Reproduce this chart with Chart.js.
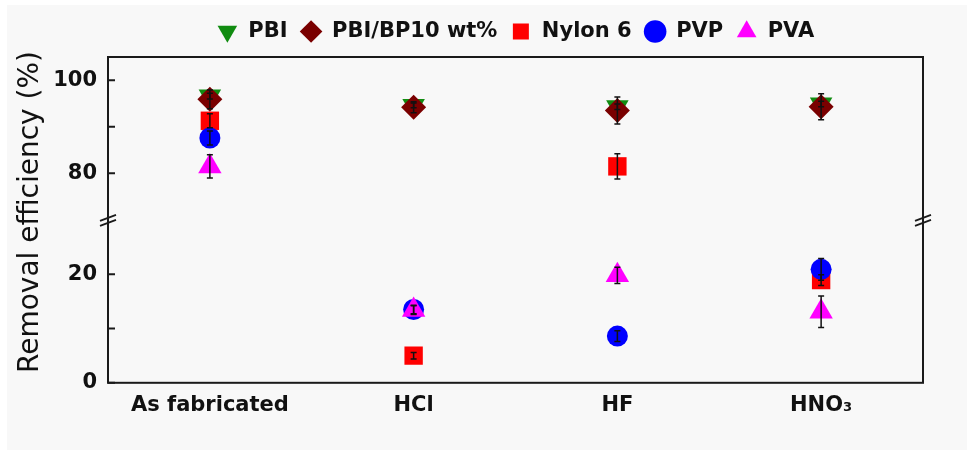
<!DOCTYPE html>
<html>
<head>
<meta charset="utf-8">
<script src="https://cdn.jsdelivr.net/npm/chart.js@4.4.1/dist/chart.umd.min.js"></script>
<style>
  html, body { margin: 0; padding: 0; background: #ffffff; }
  #wrap { width: 967px; height: 450px; }
</style>
</head>
<body>
<div id="wrap"><canvas id="chart" width="967" height="450"></canvas></div>
<script>
// Treatment conditions along the x axis
const categories = ['As fabricated', 'HCl', 'HF', 'HNO₃'];

// Removal efficiency (%) per membrane material
const pbi    = [96.6, 94.6, 94.3, 94.9];
const pbiBp  = [95.9, 94.2, 93.5, 94.3];
const nylon6 = [91.3, 5.0, 81.5, 18.9];
const pvp    = [87.6, 13.5, 8.6, 20.9];
const pva    = [81.5, 13.4, 19.8, 13.1];

// Standard deviations for the error bars
const pbiErr    = [0.6, 0.5, 0.6, 0.6];
const pbiBpErr  = [2.0, 1.2, 2.9, 2.8];
const nylon6Err = [1.5, 0.6, 2.7, 1.0];
const pvpErr    = [1.5, 0.8, 1.0, 2.0];
const pvaErr    = [2.5, 0.8, 1.5, 2.9];

// Axis break: values below go to the lower panel, above to the upper one
const upperRange = [70, 105];
const lowerRange = [0, 30];
const upperTicks = [80, 90, 100];
const lowerTicks = [0, 10, 20];

const FONT = 'DejaVu Sans, Liberation Sans, Arial, sans-serif';

const series = [
  { label: 'PBI',          values: pbi,    err: pbiErr,    color: '#118c11', style: 'triangle', rotation: 180, radius: 13 },
  { label: 'PBI/BP10 wt%', values: pbiBp,  err: pbiBpErr,  color: '#7a0000', style: 'rectRot',  rotation: 0,   radius: 12.5 },
  { label: 'Nylon 6',      values: nylon6, err: nylon6Err, color: '#ff0000', style: 'rect',     rotation: 0,   radius: 13 },
  { label: 'PVP',          values: pvp,    err: pvpErr,    color: '#0000ff', style: 'circle',   rotation: 0,   radius: 10.5 },
  { label: 'PVA',          values: pva,    err: pvaErr,    color: '#ff00ff', style: 'triangle', rotation: 0,   radius: 13.5 }
];

function makeDataset(s, k, panel) {
  const inUpper = v => v >= upperRange[0];
  const data = s.values.map(v => (panel === 'yTop' ? inUpper(v) : !inUpper(v)) ? v : null);
  return {
    label: s.label,
    data: data,
    errors: s.err,
    yAxisID: panel,
    showLine: false,
    order: series.length - k,
    pointStyle: s.style,
    pointRotation: s.rotation,
    pointRadius: s.radius,
    pointHoverRadius: s.radius,
    pointBackgroundColor: s.color,
    pointBorderColor: s.color,
    pointBorderWidth: 0,
    backgroundColor: s.color,
    borderColor: s.color
  };
}

const datasets = series.map((s, k) => makeDataset(s, k, 'yTop'))
  .concat(series.map((s, k) => makeDataset(s, k, 'yBottom')));

// Page background, frame, inward ticks, axis-break marks, y title and error bars
const decorations = {
  id: 'decorations',
  beforeDraw(chart) {
    const ctx = chart.ctx;
    ctx.save();
    ctx.fillStyle = '#ffffff';
    ctx.fillRect(0, 0, chart.width, chart.height);
    ctx.fillStyle = '#f8f8f8';
    ctx.fillRect(7, 5, chart.width - 7, chart.height - 5);
    ctx.restore();
  },
  afterDatasetsDraw(chart) {
    const ctx = chart.ctx;
    ctx.save();
    ctx.strokeStyle = '#111';
    ctx.lineWidth = 1.5;
    chart.data.datasets.forEach((ds, di) => {
      const meta = chart.getDatasetMeta(di);
      const scale = chart.scales[ds.yAxisID];
      ds.data.forEach((v, i) => {
        if (v === null || !ds.errors) return;
        const e = ds.errors[i];
        const x = meta.data[i].x;
        const y1 = scale.getPixelForValue(v - e);
        const y2 = scale.getPixelForValue(v + e);
        ctx.beginPath();
        ctx.moveTo(x, y1); ctx.lineTo(x, y2);
        ctx.moveTo(x - 3, y1); ctx.lineTo(x + 3, y1);
        ctx.moveTo(x - 3, y2); ctx.lineTo(x + 3, y2);
        ctx.stroke();
      });
    });
    ctx.restore();
  },
  afterDraw(chart) {
    const ctx = chart.ctx;
    const a = chart.chartArea;
    const top = chart.scales.yTop, bottom = chart.scales.yBottom;
    ctx.save();
    ctx.strokeStyle = '#1a1a1a';
    ctx.lineWidth = 2;
    ctx.strokeRect(a.left, a.top, a.right - a.left, a.bottom - a.top);

    // inward ticks on the left axis
    ctx.beginPath();
    upperTicks.forEach(v => { const y = top.getPixelForValue(v); ctx.moveTo(a.left, y); ctx.lineTo(a.left + 7, y); });
    lowerTicks.forEach(v => { const y = bottom.getPixelForValue(v); ctx.moveTo(a.left, y); ctx.lineTo(a.left + 7, y); });
    ctx.stroke();

    // break marks where the two panels meet
    const yb = (top.bottom + bottom.top) / 2;
    ctx.lineWidth = 1.8;
    [a.left, a.right].forEach(x => {
      ctx.beginPath();
      ctx.moveTo(x - 8, yb + 1); ctx.lineTo(x + 8, yb - 5);
      ctx.moveTo(x - 8, yb + 6); ctx.lineTo(x + 8, yb);
      ctx.stroke();
    });

    // y axis title spanning both panels
    ctx.fillStyle = '#111';
    ctx.font = '28px ' + FONT;
    ctx.textAlign = 'center';
    ctx.textBaseline = 'middle';
    ctx.translate(31, 212);
    ctx.rotate(-Math.PI / 2);
    ctx.fillText('Removal efficiency (%)', 0, 0);
    ctx.restore();
  }
};

const tickFont = { family: FONT, size: 21, weight: 'bold' };

function panelScale(range, ticks) {
  return {
    type: 'linear',
    position: 'left',
    stack: 'efficiency',
    stackWeight: 1,
    min: range[0],
    max: range[1],
    grid: { display: false, drawTicks: false },
    border: { display: false },
    afterBuildTicks: s => { s.ticks = ticks.map(v => ({ value: v })); },
    afterFit: s => { s.width = 108; },
    ticks: {
      font: tickFont,
      color: '#111',
      padding: 11,
      callback: v => (v % 20 === 0 ? String(v) : '')
    }
  };
}

new Chart(document.getElementById('chart'), {
  type: 'line',
  data: { labels: categories, datasets: datasets },
  options: {
    responsive: false,
    animation: false,
    layout: { padding: { top: 8, right: 44, bottom: 22, left: 0 } },
    plugins: {
      tooltip: { enabled: false },
      legend: {
        position: 'top',
        align: 'center',
        fullSize: false,
        labels: {
          usePointStyle: true,
          boxWidth: 21,
          boxHeight: 16,
          padding: 13,
          color: '#111',
          font: tickFont,
          filter: item => item.datasetIndex < series.length,
          sort: (a, b) => a.datasetIndex - b.datasetIndex
        }
      }
    },
    scales: {
      x: {
        type: 'category',
        offset: true,
        grid: { display: false, drawTicks: false },
        border: { display: false },
        ticks: {
          font: tickFont,
          color: '#111',
          padding: 10,
          maxRotation: 0,
          autoSkip: false
        }
      },
      // thin empty band between the legend and the top of the frame
      xTopBand: {
        type: 'category',
        position: 'top',
        grid: { display: false, drawTicks: false },
        border: { display: false },
        ticks: { display: false },
        afterFit: s => { s.height = 5; }
      },
      yBottom: panelScale(lowerRange, lowerTicks),
      yTop: panelScale(upperRange, upperTicks)
    }
  },
  plugins: [decorations]
});
</script>
</body>
</html>
